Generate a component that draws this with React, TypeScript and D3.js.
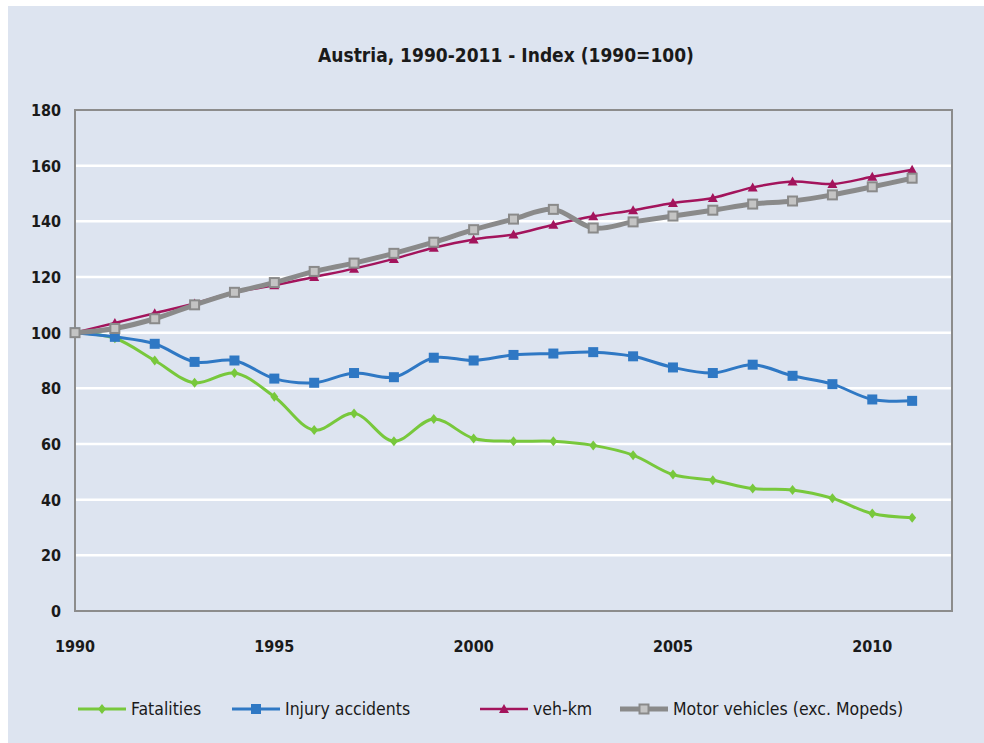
import { useEffect, useRef } from 'react';
import * as d3 from 'd3';

const years = d3.range(1990, 2012);
const fatalities = [100, 98, 90, 82, 85.5, 77, 65, 71, 61, 69, 62, 61, 61, 59.5, 56, 49, 47, 44, 43.5, 40.5, 35, 33.5];
const injuryAccidents = [100, 98.5, 96, 89.5, 90, 83.5, 82, 85.5, 84, 91, 90, 92, 92.5, 93, 91.5, 87.5, 85.5, 88.5, 84.5, 81.5, 76, 75.5];
const vehKm = [100, 103.5, 107, 110.5, 114.5, 117, 120, 123, 126.5, 130.5, 133.5, 135.3, 138.8, 141.8, 144, 146.6, 148.4, 152.2, 154.3, 153.4, 156, 158.5];
const motorVehicles = [100, 101.5, 105, 110, 114.5, 118, 122, 125, 128.5, 132.5, 137, 140.8, 144.3, 137.6, 139.8, 141.9, 144, 146.2, 147.3, 149.5, 152.4, 155.5];
const yTicks = [0, 20, 40, 60, 80, 100, 120, 140, 160, 180];
const xTicks = [1990, 1995, 2000, 2005, 2010];

type Marker = 'diamond' | 'square' | 'triangle' | 'hollow';
interface Series {
  name: string;
  values: number[];
  color: string;
  width: number;
  marker: Marker;
}

const series: Series[] = [
  { name: 'Fatalities', values: fatalities, color: '#78c83c', width: 3, marker: 'diamond' },
  { name: 'Injury accidents', values: injuryAccidents, color: '#2f78c4', width: 3, marker: 'square' },
  { name: 'veh-km', values: vehKm, color: '#a3145c', width: 2.5, marker: 'triangle' },
  { name: 'Motor vehicles (exc. Mopeds)', values: motorVehicles, color: '#8a8a8a', width: 5, marker: 'hollow' },
];

const legendX = [78, 232, 480, 620];

const FONT = '"DejaVu Sans Condensed", "Liberation Sans Narrow", Arial, sans-serif';
const BG = '#dde4f0';

const App = () => {
  const ref = useRef<SVGSVGElement>(null);

  useEffect(() => {
    if (!ref.current) return;
    const svg = d3.select(ref.current);
    svg.selectAll('*').remove();

    const left = 75;
    const right = 952;
    const top = 110;
    const bottom = 611;

    const x = d3.scaleLinear().domain([1990, 2012]).range([left, right]);
    const y = d3.scaleLinear().domain([0, 180]).range([bottom, top]);

    svg.append('rect').attr('x', 0).attr('y', 0).attr('width', 984).attr('height', 743).attr('fill', '#ffffff');
    svg.append('rect').attr('x', 8).attr('y', 6).attr('width', 976).attr('height', 737).attr('fill', BG);

    svg
      .append('text')
      .attr('x', 506)
      .attr('y', 62)
      .attr('text-anchor', 'middle')
      .attr('font-family', FONT)
      .attr('font-weight', 'bold')
      .attr('font-size', 19)
      .attr('fill', '#1a1a1a')
      .text('Austria, 1990-2011 - Index (1990=100)');

    // gridlines
    svg
      .append('g')
      .selectAll('line')
      .data(yTicks.filter((t) => t > 0 && t < 180))
      .join('line')
      .attr('x1', left)
      .attr('x2', right)
      .attr('y1', (d) => y(d))
      .attr('y2', (d) => y(d))
      .attr('stroke', '#ffffff')
      .attr('stroke-width', 2.5);

    svg
      .append('rect')
      .attr('x', left)
      .attr('y', top)
      .attr('width', right - left)
      .attr('height', bottom - top)
      .attr('fill', 'none')
      .attr('stroke', '#8c8c8c')
      .attr('stroke-width', 2);

    // y labels
    svg
      .append('g')
      .selectAll('text')
      .data(yTicks)
      .join('text')
      .attr('x', 61)
      .attr('y', (d) => y(d) + 6)
      .attr('text-anchor', 'end')
      .attr('font-family', FONT)
      .attr('font-weight', 'bold')
      .attr('font-size', 16)
      .attr('fill', '#1a1a1a')
      .text((d) => d);

    // x labels
    svg
      .append('g')
      .selectAll('text')
      .data(xTicks)
      .join('text')
      .attr('x', (d) => x(d))
      .attr('y', 652)
      .attr('text-anchor', 'middle')
      .attr('font-family', FONT)
      .attr('font-weight', 'bold')
      .attr('font-size', 16)
      .attr('fill', '#1a1a1a')
      .text((d) => d);

    const line = d3
      .line<number>()
      .x((_, i) => x(years[i]))
      .y((d) => y(d))
      .curve(d3.curveCatmullRom.alpha(0.5));

    const drawMarker = (g: d3.Selection<SVGGElement, unknown, null, undefined>, s: Series, cx: number, cy: number) => {
      if (s.marker === 'diamond') {
        g.append('path')
          .attr('d', `M${cx},${cy - 5}L${cx + 4},${cy}L${cx},${cy + 5}L${cx - 4},${cy}Z`)
          .attr('fill', s.color);
      } else if (s.marker === 'square') {
        g.append('rect').attr('x', cx - 5).attr('y', cy - 5).attr('width', 10).attr('height', 10).attr('fill', s.color);
      } else if (s.marker === 'triangle') {
        g.append('path')
          .attr('d', `M${cx},${cy - 5}L${cx + 5},${cy + 4}L${cx - 5},${cy + 4}Z`)
          .attr('fill', s.color);
      } else {
        g.append('rect')
          .attr('x', cx - 4.5)
          .attr('y', cy - 4.5)
          .attr('width', 9)
          .attr('height', 9)
          .attr('fill', '#c4c4c4')
          .attr('stroke', s.color)
          .attr('stroke-width', 2);
      }
    };

    series.forEach((s) => {
      const g = svg.append('g');
      g.append('path')
        .datum(s.values)
        .attr('d', line)
        .attr('fill', 'none')
        .attr('stroke', s.color)
        .attr('stroke-width', s.width)
        .attr('stroke-linejoin', 'round');
      s.values.forEach((v, i) => drawMarker(g, s, x(years[i]), y(v)));
    });

    // legend
    series.forEach((s, i) => {
      const g = svg.append('g');
      const lx = legendX[i];
      const ly = 709;
      g.append('line')
        .attr('x1', lx)
        .attr('x2', lx + 48)
        .attr('y1', ly)
        .attr('y2', ly)
        .attr('stroke', s.color)
        .attr('stroke-width', s.width);
      drawMarker(g, s, lx + 24, ly);
      g.append('text')
        .attr('x', lx + 53)
        .attr('y', ly + 6)
        .attr('font-family', FONT)
        .attr('font-size', 17.5)
        .attr('fill', '#1a1a1a')
        .text(s.name);
    });
  }, []);

  return <svg ref={ref} width={984} height={743} style={{ position: 'absolute', left: 0, top: 0 }} />;
};

export default App;
